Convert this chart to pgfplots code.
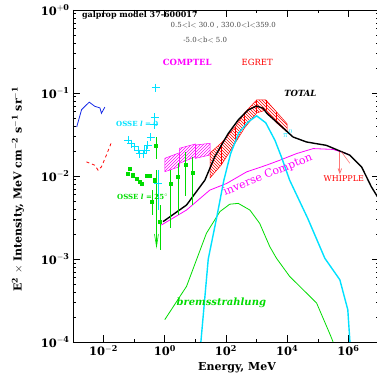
\documentclass[border=0pt]{standalone}
\usepackage{fontspec}
\setmainfont{DejaVu Serif}
\usepackage{pgfplots}
\pgfplotsset{compat=1.18}
\usetikzlibrary{patterns}
\definecolor{ccyan}{RGB}{0,225,255}
\definecolor{cgreen}{RGB}{0,220,0}
\definecolor{cmag}{RGB}{255,0,255}
\definecolor{cred}{RGB}{255,0,0}
\definecolor{cblue}{RGB}{20,40,230}
\definecolor{cgray}{RGB}{70,70,70}
\definecolor{cpink}{RGB}{255,120,120}
\begin{document}
\begin{tikzpicture}
\begin{axis}[name=ax, scale only axis, width=306pt, height=332pt,
 xmode=log, ymode=log, xmin=1e-3, xmax=1e7, ymin=1e-4, ymax=1,
 xtick={1e-2,1,1e2,1e4,1e6},
 xticklabels={$\mathbf{10^{-2}}$,$\mathbf{10^{0}}$,$\mathbf{10^{2}}$,$\mathbf{10^{4}}$,$\mathbf{10^{6}}$},
 minor xtick={1e-3,1e-1,1e1,1e3,1e5,1e7},
 ytick={1e-4,1e-3,1e-2,1e-1,1},
 yticklabels={$\mathbf{10^{-4}}$,$\mathbf{10^{-3}}$,$\mathbf{10^{-2}}$,$\mathbf{10^{-1}}$,$\mathbf{10^{+0}}$},
 minor ytick={2e-4,3e-4,4e-4,5e-4,6e-4,7e-4,8e-4,9e-4,2e-3,3e-3,4e-3,5e-3,6e-3,7e-3,8e-3,9e-3,2e-2,3e-2,4e-2,5e-2,6e-2,7e-2,8e-2,9e-2,0.2,0.3,0.4,0.5,0.6,0.7,0.8,0.9},
 tick align=inside, major tick length=7pt, minor tick length=3.5pt,
 tick label style={font=\fontsize{11.5}{13}\selectfont},
 axis line style={line width=0.9pt},
 major tick style={black, line width=0.8pt},
 minor tick style={black, line width=0.6pt},
 xlabel={\bfseries Energy, MeV},
 ylabel={\bfseries E$^{\mathbf{2}}$ $\times$ Intensity, MeV cm$^{\mathbf{-2}}$ s$^{\mathbf{-1}}$ sr$^{\mathbf{-1}}$},
 xlabel style={font=\fontsize{11}{12}\selectfont, at={(axis description cs:0.536,-0.077)}, anchor=center},
 ylabel style={font=\fontsize{11}{12}\selectfont, at={(axis description cs:-0.18,0.46)}, anchor=center},
 clip=true]
\addplot[cmag, line width=0.5pt, pattern=north east lines, pattern color=cmag] coordinates {(1,0.01633) (3,0.01905) (3,0.01294) (1,0.01127) (1,0.01633)};
\addplot[cmag, line width=0.5pt, pattern=north east lines, pattern color=cmag] coordinates {(3,0.02158) (10,0.02432) (10,0.0171) (3,0.01422) (3,0.02158)};
\addplot[cmag, line width=0.5pt, pattern=north east lines, pattern color=cmag] coordinates {(10,0.0236) (30,0.02477) (30,0.0179) (10,0.01633) (10,0.0236)};
\addplot[cred, line width=0.5pt, pattern=north west lines, pattern color=cred] coordinates {(30,0.0189) (70,0.0250) (200,0.0389) (400,0.0575) (1000,0.0824) (2000,0.0824) (4500,0.0590) (10000,0.0424) (10000,0.0339) (4500,0.0436) (2000,0.0624) (1000,0.0574) (400,0.0378) (200,0.0250) (70,0.0136) (30,0.00946) (30,0.0189)};
\addplot[cred, line width=0.5pt] coordinates {(70,0.0250) (70,0.0136)};
\addplot[cred, line width=0.5pt] coordinates {(200,0.0389) (200,0.0250)};
\addplot[cred, line width=0.5pt] coordinates {(400,0.0575) (400,0.0378)};
\addplot[cred, line width=0.5pt] coordinates {(1000,0.0824) (1000,0.0574)};
\addplot[cred, line width=0.5pt] coordinates {(2000,0.0824) (2000,0.0624)};
\addplot[cred, line width=0.5pt] coordinates {(4500,0.0590) (4500,0.0436)};
\addplot[cgreen, line width=0.8pt] coordinates {(1,1.86e-4) (5.13,4.68e-4) (22.9,2.04e-3) (63.1,3.72e-3) (131.8,4.57e-3) (251,4.68e-3) (603,3.89e-3) (1259,2.69e-3) (2692,1.41e-3) (4467,1.02e-3) (12020,6.17e-4) (91200,2.95e-4) (245500,1.26e-4) (316200,1e-4)};
\addplot[cmag, line width=0.8pt] coordinates {(0.776,2.57e-3) (5.13,3.89e-3) (29.5,6.76e-3) (104.7,8.13e-3) (468,0.0112) (2089,0.0135) (5754,0.0155) (19950,0.0186) (70790,0.0214) (316200,0.0209) (871000,0.0186) (1.122e6,0.0178)};
\addplot[ccyan, line width=1.4pt] coordinates {(15.1,1e-4) (26.3,1e-3) (49.0,3.09e-3) (85.1,8.91e-3) (141.3,0.0186) (263,0.0331) (525,0.0447) (1000,0.0531) (1995,0.0437) (3981,0.0269) (6457,0.0170) (12020,8.91e-3) (46770,3.09e-3) (169800,1.02e-3) (524800,5.62e-4) (955000,2.45e-4) (1.122e6,1e-4)};
\addplot[black, line width=1.4pt] coordinates {(0.879,2.82e-3) (5.13,4.47e-3) (20.4,8.91e-3) (42.7,0.0170) (117.5,0.0324) (251,0.0473) (525,0.0624) (1000,0.0697) (1622,0.0655) (2239,0.0562) (5754,0.0412) (15490,0.0295) (42660,0.0257) (190500,0.0234) (1.122e6,0.0178) (2.69e6,0.0129) (5.62e6,7.41e-3) (8.91e6,5.62e-3)};
\addplot[cblue, line width=0.8pt] coordinates {(1.32e-3,0.0389) (1.91e-3,0.0631) (3.39e-3,0.0776) (5.13e-3,0.0692) (7.59e-3,0.0661) (8.51e-3,0.0569) (0.01096,0.0676)};
\addplot[cred, line width=0.8pt, dashed] coordinates {(2.75e-3,0.0148) (5.13e-3,0.0135) (6.61e-3,0.01175) (8.51e-3,0.0129) (0.0123,0.0178) (0.0182,0.0257)};
\addplot[only marks, mark=+, mark size=4pt, ccyan, line width=1pt] coordinates {(0.501,0.1159) (0.468,0.0513) (0.447,0.0417) (0.347,0.0295) (0.282,0.0234) (0.251,0.0204) (0.0631,0.0269) (0.0813,0.0245) (0.1047,0.0224) (0.1349,0.0204) (0.1514,0.0186) (0.195,0.0186) (0.224,0.0204) (0.603,8.13e-3)};
\addplot[ccyan, line width=0.8pt] coordinates {(0.603,0.01175) (0.603,3.89e-3)};
\addplot[cgreen, line width=0.6pt] coordinates {(0.513,0.0295) (0.513,0.0162)};
\addplot[cgreen, line width=0.6pt] coordinates {(0.536,0.01175) (0.536,1.41e-3)};
\addplot[cgreen, line width=0.6pt] coordinates {(0.46,2.0e-3) (0.536,1.41e-3) (0.62,2.0e-3)};
\addplot[cgreen, line width=0.6pt] coordinates {(0.687,4.47e-3) (0.687,1.29e-3)};
\addplot[cgreen, line width=0.6pt] coordinates {(0.385,6.76e-3) (0.385,3.39e-3)};
\addplot[cgreen, line width=0.6pt] coordinates {(1.57,0.01175) (1.57,2.34e-3)};
\addplot[cgreen, line width=0.6pt] coordinates {(2.72,0.01445) (2.72,3.39e-3)};
\addplot[cgreen, line width=0.6pt] coordinates {(4.75,0.0195) (4.75,5.75e-3)};
\addplot[cgreen, line width=0.6pt] coordinates {(8.05,0.0170) (8.05,4.47e-3)};
\addplot[only marks, mark=square*, mark size=1.6pt, cgreen] coordinates {(0.0724,0.0123) (0.0631,0.0107) (0.0912,0.0102) (0.1202,9.33e-3) (0.1514,8.51e-3) (0.1738,8.13e-3) (0.251,0.01) (0.324,0.01) (0.468,8.91e-3) (0.380,4.90e-3) (0.692,2.82e-3) (1.585,8.13e-3) (2.69,9.77e-3) (4.79,0.0138) (8.13,0.01096) (0.513,0.0234)};
\addplot[cpink, line width=0.8pt] coordinates {(5.25e5,0.0196) (5.25e5,0.0108)};
\addplot[cpink, line width=0.8pt] coordinates {(4.6e5,0.0123) (5.25e5,0.0108) (6.0e5,0.0123)};
\addplot[cpink, line width=0.6pt] coordinates {(5.89e5,0.0196) (1.12e6,0.0142)};
\node[anchor=west, font=\fontsize{8}{9}\selectfont\bfseries, inner sep=0pt] at (axis cs:1.95e-3,0.871) {galprop model 37-600017};
\node[font=\fontsize{7}{8}\selectfont, text=cgray, inner sep=0pt] at (axis cs:81.3,0.647) {0.5$<$l$<$ 30.0 , 330.0$<$l$<$359.0};
\node[font=\fontsize{7}{8}\selectfont, text=cgray, inner sep=0pt] at (axis cs:20.9,0.435) {-5.0$<$b$<$ 5.0};
\node[font=\fontsize{8.5}{10}\selectfont\bfseries, text=cmag, inner sep=0pt] at (axis cs:5.43,0.236) {COMPTEL};
\node[font=\fontsize{8.5}{10}\selectfont, text=cred, inner sep=0pt] at (axis cs:1047,0.236) {EGRET};
\node[font=\fontsize{8.5}{10}\selectfont\bfseries\itshape, inner sep=0pt] at (axis cs:26900,0.1) {TOTAL};
\node[font=\fontsize{7}{8}\selectfont\bfseries, text=ccyan, inner sep=0pt] at (axis cs:0.126,0.0424) {OSSE \textit{l} = 0};
\node[font=\fontsize{7}{8}\selectfont\bfseries, text=cgreen, inner sep=0pt] at (axis cs:0.19,5.58e-3) {OSSE \textit{l} = 25$^{\circ}$};
\node[font=\fontsize{11}{12}\selectfont, text=cmag, rotate=22, inner sep=0pt] at (axis cs:2344,0.01028) {inverse Compton};
\node[font=\fontsize{8}{10}\selectfont, text=cred, inner sep=0pt] at (axis cs:7.08e5,9.2e-3) {WHIPPLE};
\node[text=ccyan, inner sep=0pt, font=\fontsize{9}{10}\selectfont] at (axis cs:10470,0.0321) {$\pi^{0}$};
\node[font=\fontsize{10}{12}\selectfont\bfseries\itshape, text=cgreen, inner sep=0pt] at (axis cs:70.2,2.95e-4) {bremsstrahlung};
\end{axis}
\pgfresetboundingbox
\path ([shift={(-73pt,-36pt)}]ax.south west) rectangle ([shift={(-3pt,10pt)}]ax.north east);
\end{tikzpicture}
\end{document}
